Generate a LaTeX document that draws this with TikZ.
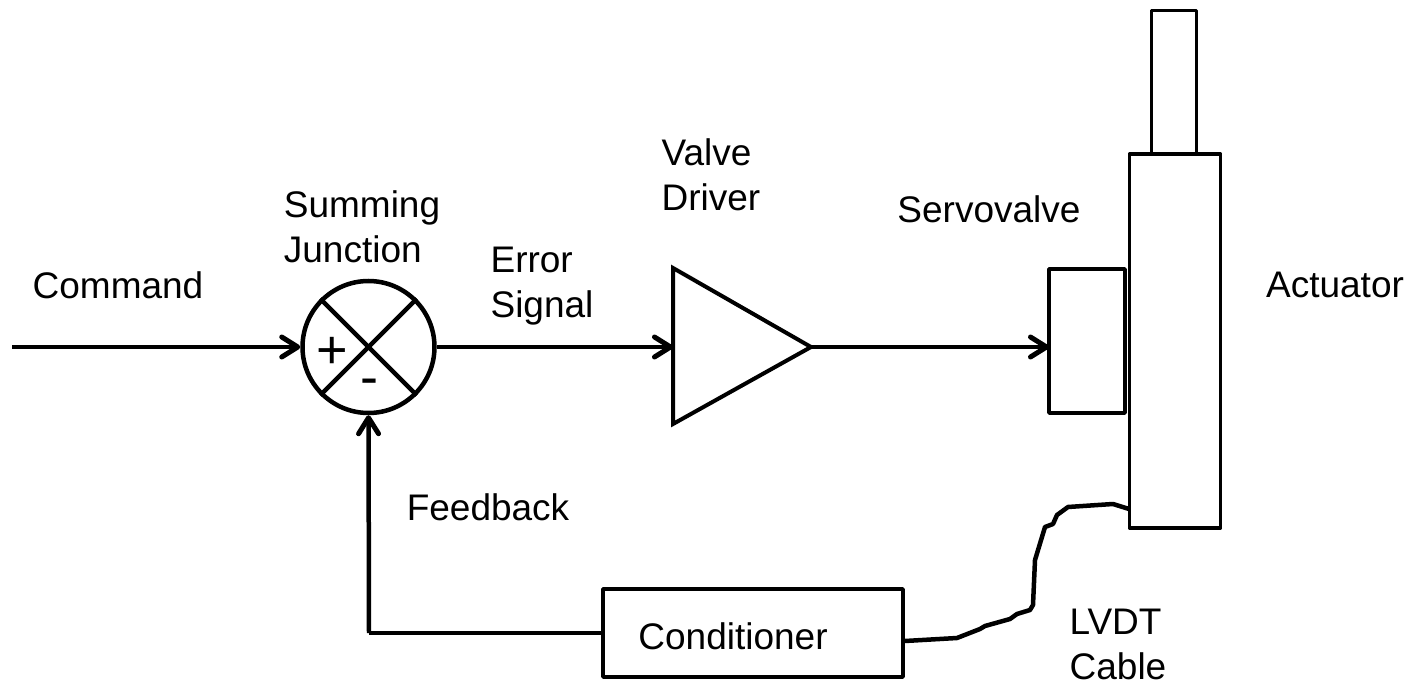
\documentclass[tikz,border=0pt]{standalone}
\usepackage{fontspec}
\setmainfont{Liberation Sans}
\usetikzlibrary{arrows.meta}
\tikzset{
  ln/.style={line width=4.5pt,black},
  bx/.style={draw=black,line width=3.6pt,inner sep=0pt,line join=round},
  lab/.style={font=\fontsize{37}{45.5}\selectfont,align=left,anchor=center,inner sep=0pt},
  arr/.style={ln,-{Straight Barb[length=16pt,width=20pt,line width=5pt,round]}},
}
\begin{document}
\begin{tikzpicture}[x=1pt,y=-1pt,line join=miter]
\useasboundingbox (0,0) rectangle (1411,684);
\coordinate (start) at (12,347);
\node[circle,draw=black,line width=4.5pt,minimum size=132pt,inner sep=0pt] (sum) at (368.5,347) {};
\draw[ln] (sum.45) -- (sum.225);
\draw[ln] (sum.135) -- (sum.315);
\node[font=\fontsize{54}{54}\selectfont,inner sep=0pt] (plus) at (332,353) {+};
\node[font=\fontsize{54}{54}\selectfont,inner sep=0pt] (minus) at (369,387) {-};
\coordinate (tri1) at (673,268);
\coordinate (tri2) at (673,424);
\coordinate (tri3) at (811,347);
\draw[draw=black,line width=4pt] (tri1) -- (tri3) -- (tri2) -- cycle;
\coordinate (triin) at (673,347);
\node[bx,minimum width=76pt,minimum height=144pt] (servo) at (1087,341) {};
\node[bx,minimum width=91pt,minimum height=374pt] (act) at (1175,341) {};
\node[bx,minimum width=45pt,minimum height=143pt] (rod) at (1174,82) {};
\node[bx,minimum width=300pt,minimum height=88pt] (cond) at (753,633) {};
\draw[arr] (start) -- (sum.west);
\draw[arr] (sum.east) -- (triin);
\coordinate (servoin) at (1049,347);
\draw[arr] (tri3) -- (servoin);
\coordinate (fbcorner) at (369,633);
\draw[ln] (cond.west) -- (fbcorner);
\draw[arr] (fbcorner) -- (sum.south);
\coordinate (cablestart) at (905,641);
\coordinate (cableend) at (1129,509);
\draw[ln,line join=round] (cablestart) -- (957,638) -- (980,629) -- (985,626) -- (1010,619) -- (1017,614) -- (1030,610) -- (1033,605) -- (1035,560) -- (1045,527) -- (1053,524) -- (1057,515) -- (1068,507) -- (1113,504) -- (cableend);
\node[lab] (t1) at (118,285) {Command};
\node[lab] (t2) at (362,227) {Summing\\Junction};
\node[lab] (t3) at (542,286) {Error\\Signal};
\node[lab] (t4) at (711,175) {Valve\\Driver};
\node[lab] (t5) at (989,209) {Servovalve};
\node[lab] (t6) at (1335,285) {Actuator};
\node[lab] (t7) at (488,507) {Feedback};
\node[lab] (t8) at (733,636) {Conditioner};
\node[lab] (t9) at (1118,644.5) {LVDT\\Cable};
\end{tikzpicture}
\end{document}
